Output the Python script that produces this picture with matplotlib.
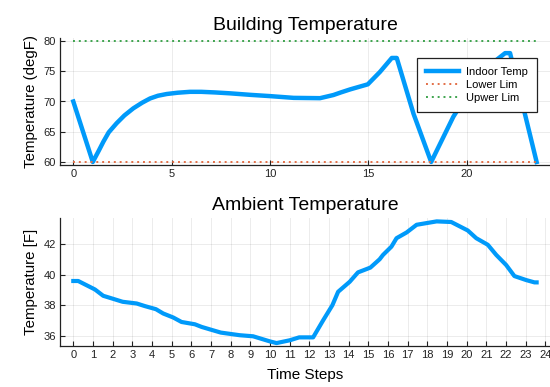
import matplotlib
matplotlib.use("Agg")
import matplotlib.pyplot as plt

plt.rcParams['font.family'] = ['Liberation Sans', 'DejaVu Sans']

# ---- data ----
indoor_t = [0, 0.99, 1.3, 1.53, 1.8, 2.2, 2.6, 3.05, 3.5, 3.9, 4.3, 4.75, 5.3, 5.93,
            6.5, 7.2, 7.97, 9.0, 9.96, 11.2, 12.54, 13.22, 13.6, 14.07, 14.97, 15.59,
            16.19, 16.44, 17.29, 18.19, 19.32, 20.0, 20.8, 21.44, 21.95, 22.2, 23.55]
indoor_T = [70.0, 60.0, 61.9, 63.36, 64.9, 66.4, 67.7, 68.87, 69.8, 70.5, 70.95, 71.24, 71.45, 71.6,
            71.6, 71.5, 71.35, 71.1, 70.9, 70.6, 70.55, 71.07, 71.5, 72.0, 72.84, 74.9,
            77.2, 77.2, 68.0, 60.0, 67.5, 71.0, 74.5, 76.7, 78.0, 78.0, 60.0]
lim_t = [0, 23.55]
lower_lim = [60, 60]
upper_lim = [80, 80]

amb_t = [0, 0.25, 1.1, 1.52, 2.03, 2.51, 3.22, 3.64, 4.2, 4.57, 5.08, 5.5, 6.18, 6.52,
         6.94, 7.5, 8.46, 9.14, 9.99, 10.33, 11.0, 11.48, 12.19, 12.7, 13.17, 13.46,
         14.05, 14.47, 15.1, 15.57, 15.74, 16.17, 16.43, 16.94, 17.45, 18.47, 19.21,
         20.05, 20.48, 21.07, 21.5, 22.0, 22.42, 23.02, 23.44, 23.55]
amb_T = [39.59, 39.59, 39.04, 38.63, 38.43, 38.24, 38.13, 37.96, 37.76, 37.48, 37.22, 36.93, 36.78, 36.61,
         36.45, 36.24, 36.07, 36.0, 35.67, 35.56, 35.74, 35.93, 35.93, 37.04, 38.02, 38.89,
         39.54, 40.15, 40.46, 41.0, 41.28, 41.82, 42.37, 42.74, 43.24, 43.46, 43.42,
         42.87, 42.37, 41.94, 41.28, 40.63, 39.91, 39.65, 39.5, 39.5]

top_xticks = [0, 5, 10, 15, 20]
top_yticks = [60, 65, 70, 75, 80]
bot_xticks = list(range(0, 25))
bot_yticks = [36, 38, 40, 42]

BLUE = '#009AFA'
ORANGE = '#E36F47'
GREEN = '#3EA44E'

fig = plt.figure(figsize=(5.5, 3.87), dpi=100)
W, H = 550, 387
ax1 = fig.add_axes([60 / W, 1 - 165 / H, 490 / W, 127 / H])
ax2 = fig.add_axes([60 / W, 1 - 346 / H, 490 / W, 128 / H])


def style(ax):
    for s in ['top', 'right']:
        ax.spines[s].set_visible(False)
    for s in ['left', 'bottom']:
        ax.spines[s].set_linewidth(0.9)
        ax.spines[s].set_color('#222222')
    ax.grid(True, color='#000000', alpha=0.08, linewidth=0.7)
    ax.set_axisbelow(True)
    ax.tick_params(direction='in', length=3.5, width=0.8, labelsize=8,
                   colors='#222222', labelcolor='#222222', pad=3)


ax1.plot(indoor_t, indoor_T, color=BLUE, lw=3.2, label='Indoor Temp', solid_joinstyle='round')
ax1.plot(lim_t, lower_lim, color=ORANGE, lw=1.4, ls=(0, (1, 2)), label='Lower Lim')
ax1.plot(lim_t, upper_lim, color=GREEN, lw=1.4, ls=(0, (1, 2)), label='Upwer Lim')
ax1.set_xlim(-0.676, 24.23)
ax1.set_ylim(59.5, 80.5)
ax1.set_xticks(top_xticks)
ax1.set_yticks(top_yticks)
style(ax1)
ax1.set_title('Building Temperature', fontsize=14, pad=6)
ax1.set_ylabel('Temperature (degF)', fontsize=10.8, labelpad=4)
leg = ax1.legend(loc='upper right', bbox_to_anchor=(536.7 / W, 1 - 57.7 / H),
                 bbox_transform=fig.transFigure, fontsize=8, frameon=True,
                 fancybox=False, edgecolor='#222222', framealpha=1,
                 handlelength=3.0, handletextpad=0.6, labelspacing=0.3,
                 borderpad=0.8, borderaxespad=0)
leg.get_frame().set_linewidth(0.9)

ax2.plot(amb_t, amb_T, color=BLUE, lw=3.0, solid_joinstyle='round')
ax2.set_xlim(-0.676, 24.23)
ax2.set_ylim(35.37, 43.68)
ax2.set_xticks(bot_xticks)
ax2.set_yticks(bot_yticks)
style(ax2)
ax2.set_title('Ambient Temperature', fontsize=14, pad=6)
ax2.set_ylabel('Temperature [F]', fontsize=10.8, labelpad=4)
ax2.set_xlabel('Time Steps', fontsize=11, labelpad=6)

fig.savefig('out.png', dpi=100)
